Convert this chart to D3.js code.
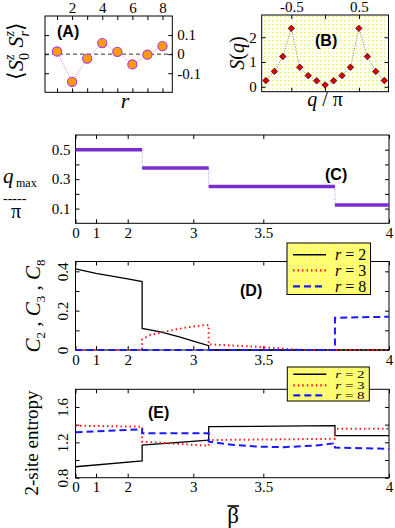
<!DOCTYPE html>
<html><head><meta charset="utf-8">
<script src="https://cdn.jsdelivr.net/npm/d3@7"></script>
<style>
body{margin:0;background:#fff}
svg{display:block}
svg text{font-family:"Liberation Serif","Times New Roman",serif}
svg text.lbl{font-family:"Liberation Sans",Arial,sans-serif;font-weight:bold}
</style></head><body>
<svg id="c" width="395" height="528"></svg>
<script>
// ---------- data ----------
const aR = [1,2,3,4,5,6,7,8];
const aCorr = [0.014,-0.145,-0.023,0.058,0.012,-0.054,-0.003,0.042];
const aTopLabels = [2,4,6,8];
const aYTicks = [-0.1,0,0.1];

const bQ = [-0.875,-0.75,-0.625,-0.5,-0.375,-0.25,-0.125,0,0.125,0.25,0.375,0.5,0.625,0.75,0.875];
const bS = [0.25,0.62,1.22,2.36,0.79,0.45,0.24,0.07,0.24,0.45,0.79,2.36,1.22,0.62,0.25];
const bXTicks = [-0.5,0,0.5];
const bYTicks = [0,1,2];

const betaTicks = [0,1,2,3,3.5,4];
const cEdges = [0,2.22,3.11,3.785,4];
const cQmax = [0.5,0.375,0.25,0.125];
const cYTicks = [0.1,0.2,0.3,0.4,0.5];

const dR2B = [0,1,2,2.22,2.22,2.5,2.8,3,3.11,3.11,4];
const dR2V = [0.412,0.39,0.362,0.348,0.11,0.092,0.066,0.045,0.022,0,0];
const dR3B = [0,2.22,2.22,2.34,2.49,2.7,2.9,3.05,3.11,3.11,3.43,3.62,3.68,4];
const dR3V = [0,0,0.054,0.076,0.087,0.102,0.115,0.124,0.127,0.029,0.017,0.003,0,0];
const dR8B = [0,3.785,3.785,4];
const dR8V = [0,0,0.164,0.169];
const dYTicks = [0,0.1,0.2,0.3,0.4];

const eR2B = [0,2.22,2.22,3.11,3.11,3.785,3.785,4];
const eR2V = [0.924,0.989,1.17,1.226,1.377,1.388,1.275,1.275];
const eR3B = [0,2.22,2.22,3.11,3.11,3.785,3.785,4];
const eR3V = [1.388,1.377,1.207,1.162,1.226,1.24,1.355,1.355];
const eR8B = [0,2.22,2.22,3.11,3.11,3.29,3.45,3.58,3.71,3.785,3.785,4];
const eR8V = [1.313,1.347,1.302,1.302,1.207,1.17,1.152,1.145,1.165,1.19,1.14,1.126];
const eYTicks = [0.8,1.0,1.2,1.4,1.6];

const legendR = ["2","3","8"];

// ---------- setup ----------
const svg = d3.select("#c");
const defs = svg.append("defs");
const pb = defs.append("pattern").attr("id","bdots").attr("width",4).attr("height",4).attr("patternUnits","userSpaceOnUse");
pb.append("rect").attr("width",4).attr("height",4).attr("fill","#fff");
pb.append("rect").attr("width",1.3).attr("height",1.3).attr("fill","#eded60");
const pl = defs.append("pattern").attr("id","ldots").attr("width",3).attr("height",3).attr("patternUnits","userSpaceOnUse");
pl.append("rect").attr("width",3).attr("height",3).attr("fill","#ffff66");
pl.append("rect").attr("width",1).attr("height",1).attr("fill","#ffffd8");

function styleAxis(g){
  g.select(".domain").remove();
  g.attr("font-family",null).attr("font-size",null);
  g.selectAll(".tick line").attr("stroke","#000");
  g.selectAll(".tick text").attr("fill","#000").style("font-size","15px");
  return g;
}
function ext(s){ const r=s.range(); return [d3.min(r), d3.max(r)]; }
function frame(x,y){
  const [x0,x1]=ext(x), [y0,y1]=ext(y);
  svg.append("rect").attr("x",x0).attr("y",y0).attr("width",x1-x0).attr("height",y1-y0)
    .attr("fill","none").attr("stroke","#000").attr("stroke-width",1);
}
function rotateTickLabels(g,off){
  g.selectAll(".tick text").attr("x",null).attr("y",0).attr("dy",null).attr("text-anchor","middle")
    .attr("transform",`translate(${off},0) rotate(-90)`);
}
function txt(x,y,s,size,opt={}){
  const t=svg.append("text").attr("x",x).attr("y",y).style("font-size",size+"px").text(s);
  if(opt.italic) t.style("font-style","italic");
  if(opt.anchor) t.attr("text-anchor",opt.anchor);
  if(opt.cls) t.attr("class",opt.cls);
  return t;
}

// ---------- Panel A ----------
const xA = d3.scaleLinear().domain([0.2,8.65]).range([45,172.3]);
const yA = d3.scaleLinear().domain([-0.2,0.2]).range([92.3,16]);
svg.append("g").attr("transform",`translate(0,${yA.range()[0]})`)
  .call(d3.axisBottom(xA).tickValues(aR).tickSize(-4).tickFormat("")).call(styleAxis);
svg.append("g").attr("transform",`translate(0,${yA.range()[1]})`)
  .call(d3.axisTop(xA).tickValues(aR).tickSize(-4).tickPadding(3).tickFormat(d=>aTopLabels.includes(d)?String(d):"")).call(styleAxis);
svg.append("g").attr("transform",`translate(${xA.range()[1]},0)`)
  .call(d3.axisRight(yA).tickValues(aYTicks).tickSize(-4).tickPadding(5).tickFormat(d=>d===0?"0":String(d))).call(styleAxis);
svg.append("g").attr("transform",`translate(${xA.range()[0]},0)`)
  .call(d3.axisLeft(yA).tickValues(aYTicks).tickSize(-4).tickFormat("")).call(styleAxis);
svg.append("line").attr("x1",xA.range()[0]).attr("x2",xA.range()[1]).attr("y1",yA(0)).attr("y2",yA(0))
  .attr("stroke","#333").attr("stroke-dasharray","4,3").attr("stroke-width",1);
frame(xA,yA);
svg.append("path").datum(aR.map((r,i)=>[r,aCorr[i]]))
  .attr("d",d3.line().x(d=>xA(d[0])).y(d=>yA(d[1])))
  .attr("fill","none").attr("stroke","#cc70f0").attr("stroke-width",1).attr("stroke-dasharray","1,1.5");
svg.append("g").selectAll("circle").data(aR.map((r,i)=>[r,aCorr[i]])).join("circle")
  .attr("cx",d=>xA(d[0])).attr("cy",d=>yA(d[1])).attr("r",4.6)
  .attr("fill","#ff9a00").attr("stroke","#a838e8").attr("stroke-width",1.1);
txt(57,37,"(A)",16,{cls:"lbl"});
txt(125,108,"r",22,{italic:true,anchor:"middle"});
{
  const t = svg.append("text").attr("transform","translate(23,51) rotate(-90)").attr("text-anchor","middle")
    .style("font-size","22px");
  t.append("tspan").text("⟨");
  t.append("tspan").style("font-style","italic").text("S");
  t.append("tspan").style("font-style","italic").style("font-size","14px").attr("dy",-9).text("z");
  t.append("tspan").style("font-size","14px").attr("dx",-5.5).attr("dy",15).text("0");
  t.append("tspan").attr("dy",-6).text(" ");
  t.append("tspan").style("font-style","italic").text("S");
  t.append("tspan").style("font-style","italic").style("font-size","14px").attr("dy",-9).text("z");
  t.append("tspan").style("font-style","italic").style("font-size","14px").attr("dx",-5.5).attr("dy",15).text("r");
  t.append("tspan").attr("dy",-6).text("⟩");
}

// ---------- Panel B ----------
const xB = d3.scaleLinear().domain([-0.9375,0.9375]).range([261.7,388.5]);
const yB = d3.scaleLinear().domain([-0.2,2.9]).range([91.7,15]);
svg.append("rect").attr("x",xB.range()[0]).attr("y",yB.range()[1]).attr("width",xB.range()[1]-xB.range()[0])
  .attr("height",yB.range()[0]-yB.range()[1]).attr("fill","url(#bdots)");
svg.append("g").attr("transform",`translate(0,${yB.range()[0]})`)
  .call(d3.axisBottom(xB).tickValues(bXTicks).tickSize(-4).tickFormat("")).call(styleAxis);
svg.append("g").attr("transform",`translate(0,${yB.range()[1]})`)
  .call(d3.axisTop(xB).tickValues(bXTicks).tickSize(-4).tickPadding(3).tickFormat(d=>d===0?"":String(d))).call(styleAxis);
svg.append("g").attr("transform",`translate(${xB.range()[0]},0)`)
  .call(d3.axisLeft(yB).tickValues(bYTicks).tickSize(-4).tickPadding(5).tickFormat(d=>String(d))).call(styleAxis);
svg.append("g").attr("transform",`translate(${xB.range()[1]},0)`)
  .call(d3.axisRight(yB).tickValues(bYTicks).tickSize(-4).tickFormat("")).call(styleAxis);
frame(xB,yB);
svg.append("path").datum(bQ.map((q,i)=>[q,bS[i]]))
  .attr("d",d3.line().x(d=>xB(d[0])).y(d=>yB(d[1])))
  .attr("fill","none").attr("stroke","#777").attr("stroke-width",1).attr("stroke-dasharray","1,1.5");
svg.append("g").selectAll("path").data(bQ.map((q,i)=>[q,bS[i]])).join("path")
  .attr("transform",d=>`translate(${xB(d[0])},${yB(d[1])})`)
  .attr("d",d3.symbol(d3.symbolDiamond2,26))
  .attr("fill","#e00000").attr("stroke","#400").attr("stroke-width",0.8);
txt(315,46,"(B)",16,{cls:"lbl"});
{
  const t = svg.append("text").attr("x",325).attr("y",106).attr("text-anchor","middle").style("font-size","20px");
  t.append("tspan").style("font-style","italic").text("q");
  t.append("tspan").text(" / π");
  const s = svg.append("text").attr("transform","translate(244,53) rotate(-90)").attr("text-anchor","middle").style("font-size","20px");
  s.append("tspan").style("font-style","italic").text("S");
  s.append("tspan").text("(");
  s.append("tspan").style("font-style","italic").text("q");
  s.append("tspan").text(")");
}

// ---------- shared beta scale (polylinear, as in the reference axis) ----------
const xBeta = d3.scaleLinear().domain(betaTicks).range([75.5,96,127.7,193.3,263.3,389]);
function betaAxes(y, yTicks, yLabelFmt, rotate){
  const [t,b] = ext(y);
  const [l,r] = ext(xBeta);
  svg.append("g").attr("transform",`translate(0,${b})`)
    .call(d3.axisBottom(xBeta).tickValues(betaTicks).tickSize(-4).tickPadding(4).tickFormat(d=>String(d))).call(styleAxis);
  svg.append("g").attr("transform",`translate(0,${t})`)
    .call(d3.axisTop(xBeta).tickValues(betaTicks).tickSize(-4).tickFormat("")).call(styleAxis);
  const gl = svg.append("g").attr("transform",`translate(${l},0)`)
    .call(d3.axisLeft(y).tickValues(yTicks).tickSize(-4).tickPadding(5).tickFormat(yLabelFmt)).call(styleAxis);
  if(rotate) rotateTickLabels(gl,-7.5);
  svg.append("g").attr("transform",`translate(${r},0)`)
    .call(d3.axisRight(y).tickValues(yTicks).tickSize(-4).tickFormat("")).call(styleAxis);
  frame(xBeta,y);
}
const near = arr => d => arr.some(v=>Math.abs(v-d)<1e-9) ? String(d) : "";

// ---------- Panel C ----------
const yC = d3.scaleLinear().domain([0,0.6]).range([223.3,135]);
betaAxes(yC, cYTicks, near([0.1,0.3,0.5]), false);
svg.append("g").selectAll("line").data(cQmax.slice(1)).join("line")
  .attr("x1",(d,i)=>xBeta(cEdges[i+1])).attr("x2",(d,i)=>xBeta(cEdges[i+1]))
  .attr("y1",(d,i)=>yC(cQmax[i])).attr("y2",d=>yC(d))
  .attr("stroke","#b98af0").attr("stroke-width",1).attr("stroke-dasharray","1,1.5");
svg.append("g").selectAll("line").data(cQmax).join("line")
  .attr("x1",(d,i)=>xBeta(cEdges[i])).attr("x2",(d,i)=>xBeta(cEdges[i+1]))
  .attr("y1",d=>yC(d)).attr("y2",d=>yC(d))
  .attr("stroke","#7a2cd0").attr("stroke-width",3.5);
txt(325,180,"(C)",16,{cls:"lbl"});
txt(3,183,"q",21,{italic:true});
txt(16,186.5,"max",12);
txt(3,203,"-----",14);
txt(16,218,"π",20,{anchor:"middle"});

// ---------- line helpers ----------
const styles = [
  {stroke:"#000",w:1.3,dash:null},
  {stroke:"#ff1a1a",w:2,dash:"1.5,3"},
  {stroke:"#1a1aff",w:2,dash:"7,4"}
];
function drawSeries(y, B, V, st){
  svg.append("path").datum(B.map((b,i)=>[b,V[i]]))
    .attr("d",d3.line().x(d=>xBeta(d[0])).y(d=>y(d[1])))
    .attr("fill","none").attr("stroke",st.stroke).attr("stroke-width",st.w)
    .attr("stroke-dasharray",st.dash);
}
function legend(x0,y0,w,h,rows,fs,sy){
  svg.append("rect").attr("x",x0).attr("y",y0).attr("width",w).attr("height",h)
    .attr("fill","url(#ldots)").attr("stroke","#000").attr("stroke-width",1);
  legendR.forEach((r,i)=>{
    const st = styles[i];
    svg.append("line").attr("x1",x0+6).attr("x2",x0+39).attr("y1",rows[i]).attr("y2",rows[i])
      .attr("stroke",st.stroke).attr("stroke-width",st.w+0.3).attr("stroke-dasharray",st.dash);
    const t = svg.append("text").attr("transform",`translate(${x0+48},${rows[i]+fs*0.33*sy}) scale(1,${sy})`)
      .style("font-size",fs+"px");
    t.append("tspan").style("font-style","italic").text("r");
    t.append("tspan").text(" = "+r);
  });
}

// ---------- Panel D ----------
const yD = d3.scaleLinear().domain([0,0.45]).range([350,261.5]);
betaAxes(yD, dYTicks, near([0,0.2,0.4]), true);
drawSeries(yD, dR2B, dR2V, styles[0]);
drawSeries(yD, dR3B, dR3V, styles[1]);
drawSeries(yD, dR8B, dR8V, styles[2]);
txt(240,296,"(D)",16,{cls:"lbl"});
{
  const t = svg.append("text").attr("transform","translate(40,306) rotate(-90)").attr("text-anchor","middle").style("font-size","21px");
  [["C","2"],["C","3"],["C","8"]].forEach((p,i)=>{
    t.append("tspan").style("font-style","italic").attr("dy",i?-5:0).text((i?" , ":"")+p[0]);
    t.append("tspan").style("font-size","13px").attr("dy",5).text(p[1]);
  });
}

// ---------- Panel E ----------
const yE = d3.scaleLinear().domain([0.8,1.8]).range([477.7,389.3]);
betaAxes(yE, eYTicks, near([0.8,1.2,1.6]), true);
drawSeries(yE, eR2B, eR2V, styles[0]);
drawSeries(yE, eR3B, eR3V, styles[1]);
drawSeries(yE, eR8B, eR8V, styles[2]);
txt(148,418,"(E)",16,{cls:"lbl"});
svg.append("text").attr("transform","translate(38,443) rotate(-90)").attr("text-anchor","middle")
  .style("font-size","19px").text("2-site entropy");
txt(233,523,"β",23,{anchor:"middle"});
svg.append("line").attr("x1",227.5).attr("x2",239).attr("y1",506).attr("y2",506).attr("stroke","#000").attr("stroke-width",1.6);

// legends (drawn last, on top)
legend(287,243,83.5,51.5,[254.7,270.3,286.3],16,1);
legend(287.3,367,82,34,[374.3,385.3,395.3],15,0.68);
</script>
</body></html>
